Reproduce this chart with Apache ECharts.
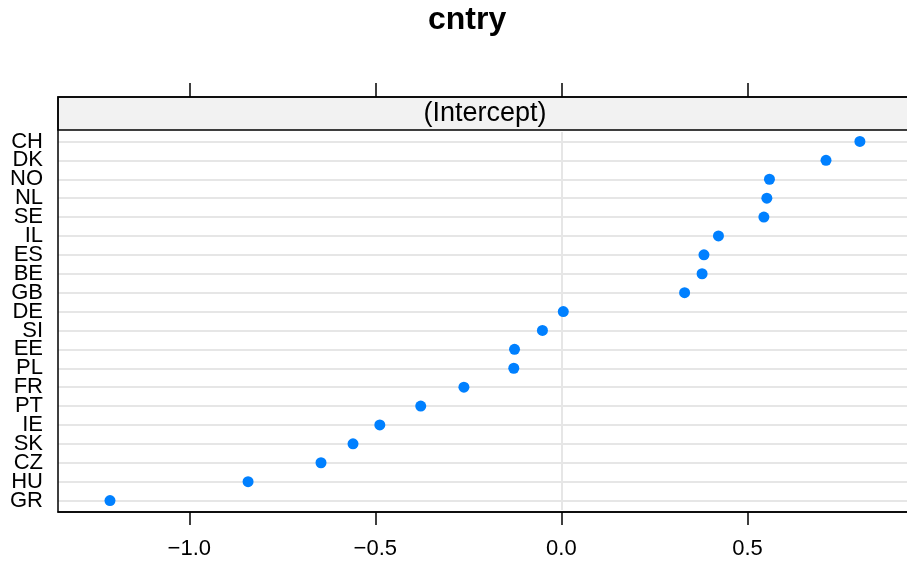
<!DOCTYPE html>
<html>
<head>
<meta charset="utf-8">
<script src="https://cdn.jsdelivr.net/npm/echarts@6/dist/echarts.min.js"></script>
<style>
html, body { margin: 0; padding: 0; background: #fff; }
#dotplot { width: 907px; height: 561px; }
</style>
</head>
<body>
<div id="dotplot"></div>
<script>
// countries, top to bottom
var countries = ['CH','DK','NO','NL','SE','IL','ES','BE','GB','DE','SI','EE','PL','FR','PT','IE','SK','CZ','HU','GR'];
// (Intercept) per country
var intercepts = [0.802, 0.711, 0.559, 0.552, 0.544, 0.422, 0.383, 0.378, 0.331, 0.005, -0.051, -0.126, -0.128, -0.262, -0.378, -0.488, -0.560, -0.646, -0.842, -1.213];
var xTicks = [-1.0, -0.5, 0.0, 0.5];
var xTickLabels = ['\u22121.0', '\u22120.5', '0.0', '0.5'];

var font = 'Liberation Sans, Arial, Helvetica, sans-serif';

(function(){
var chart = echarts.init(document.getElementById('dotplot'));

var points = [];
for (var i = 0; i < countries.length; i++) {
    points.push([intercepts[i], countries[i]]);
}
var rowLines = countries.map(function(c){ return {yAxis: c}; });
rowLines.push({xAxis: 0});

option = {
    animation: false,
    graphic: [
        {   // title
            type: 'text', left: 468 - 40, top: 4, z: 10,
            style: { text: 'cntry', font: 'bold 32px ' + font, fill: '#000' }
        },
        {   // strip
            type: 'rect', shape: { x: 58, y: 97, width: 860, height: 33 }, z: 5,
            style: { fill: '#f2f2f2', stroke: '#000', lineWidth: 1.5 }
        },
        {
            type: 'text', x: 485, y: 114, z: 6,
            style: { text: '(Intercept)', font: '27px ' + font, fill: '#000', align: 'center', verticalAlign: 'middle' }
        },
        {   // panel border
            type: 'rect', shape: { x: 58, y: 97, width: 860, height: 415 }, z: 20,
            style: { fill: 'none', stroke: '#000', lineWidth: 1.5 }
        }
    ],
    grid: {
        left: 58,
        right: -1,
        top: 132,
        bottom: 51,
        containLabel: false
    },
    xAxis: [
        {
            type: 'value',
            position: 'bottom',
            min: -1.3527,
            max: 0.9286,
            offset: 2,
            axisLine: { show: true, lineStyle: { color: '#000', width: 1.5 } },
            axisTick: { show: true, length: 13, customValues: xTicks, lineStyle: { color: '#000', width: 1.5 } },
            axisLabel: {
                customValues: xTicks,
                margin: 26,
                fontSize: 22,
                fontFamily: font,
                color: '#000',
                formatter: function(v){ return xTickLabels[xTicks.indexOf(v)]; }
            },
            splitLine: { show: false }
        },
        {
            type: 'value',
            position: 'top',
            min: -1.3527,
            max: 0.9286,
            offset: 35,
            axisLine: { show: false },
            axisTick: { show: true, length: 14, customValues: xTicks, lineStyle: { color: '#000', width: 1.5 } },
            axisLabel: { show: false },
            splitLine: { show: false }
        }
    ],
    yAxis: {
        type: 'category',
        inverse: true,
        data: countries,
        axisLine: { show: false },
        axisTick: { show: false },
        axisLabel: { interval: 0, margin: 15, fontSize: 22, fontFamily: font, color: '#000' },
        splitLine: { show: false }
    },
    series: [
        {   // reference lines
            type: 'scatter',
            data: [],
            z: 1,
            markLine: {
                z: 1,
                silent: true,
                symbol: 'none',
                label: { show: false },
                animation: false,
                lineStyle: { color: '#e6e6e6', width: 2, type: 'solid' },
                data: rowLines
            }
        },
        {
            name: '(Intercept)',
            type: 'scatter',
            z: 10,
            symbol: 'circle',
            symbolSize: 11,
            itemStyle: { color: '#0080ff', opacity: 1 },
            data: points
        }
    ]
};

chart.setOption(option);
})();
</script>
</body>
</html>
